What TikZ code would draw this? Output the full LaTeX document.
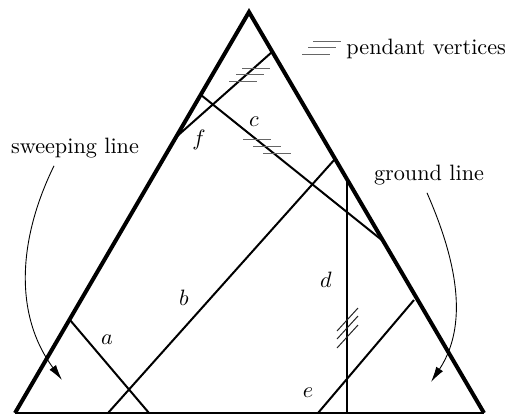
\documentclass[tikz,border=0pt]{standalone}
\usetikzlibrary{arrows.meta,calc}

\begin{document}
\begin{tikzpicture}[
    x=0.45pt,
    y=-0.45pt,
    side/.style={line width=1.8pt, line join=miter},
    chord/.style={line width=0.9pt},
    pendant/.style={line width=0.45pt, black!60},
    pointer/.style={line width=0.4pt, -{Latex[length=7pt,width=3.6pt]}}
]
\useasboundingbox (0,0) rectangle (509,417);

% Triangle
\coordinate (top) at (249,12);
\coordinate (bl) at (15,413);
\coordinate (br) at (484,413);
\draw[side] (bl) -- (top) -- (br);
\draw[chord] (bl) -- (br);

% Chords
\foreach \xa/\ya/\xb/\yb in {
    70/320/149/413,
    108/413/335/159,
    201/95/383/241,
    175/138/272/52,
    347/179/347/413,
    318/413/414/300
} {
    \draw[chord] (\xa,\ya) -- (\xb,\yb);
}

% Chord labels
\foreach \x/\y/\name in {
    107/340/a,
    184/298/b,
    254/122/c,
    326/280/d,
    308/393/e,
    199/140/f
} {
    \node (lab\name) at (\x,\y) {$\name$};
}

% Pendant vertex marks
\foreach \x/\y in {242/68, 236/74, 229/81, 243/139, 253/146, 263/153, 313/41, 308/47, 302/54} {
    \draw[pendant] (\x,\y) -- +(28,0);
}

% Hatch on d
\foreach \y in {331,339,348} {
    \draw[pendant, black!85] (337,\y) -- +(21,-23);
}

% Texts
\node[anchor=west, inner sep=0pt] (pend) at (346,49) {pendant vertices};
\node (sweep) at (75,148) {sweeping line};
\node (ground) at (429,175) {ground line};

% Pointers
\coordinate (sweeptip) at (62,380);
\coordinate (groundtip) at (431,382);
\draw[pointer] ($(sweep.south)+(-21,0)$) .. controls (20,235) and (12,312) .. (sweeptip);
\draw[pointer] ($(ground.south)+(-2,0)$) .. controls (452,250) and (472,320) .. (groundtip);

\end{tikzpicture}
\end{document}
